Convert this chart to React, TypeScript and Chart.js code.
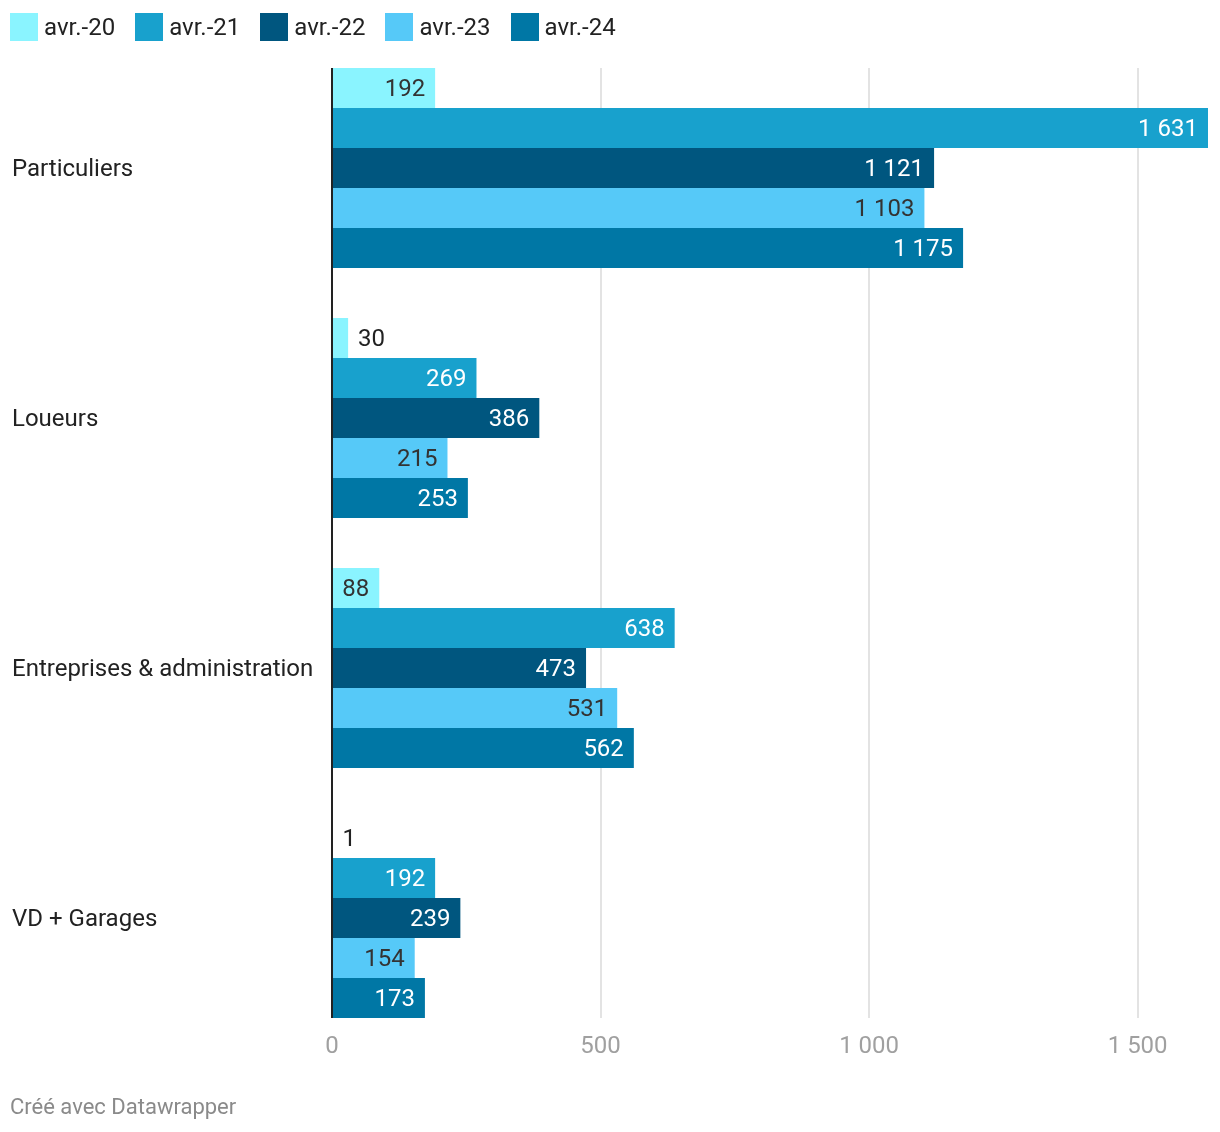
import React, { useEffect, useRef } from "react";
import { Chart, registerables } from "chart.js";

Chart.register(...registerables);

const categories = ["Particuliers", "Loueurs", "Entreprises & administration", "VD + Garages"];
const seriesNames = ["avr.-20", "avr.-21", "avr.-22", "avr.-23", "avr.-24"];
const avr20 = [192, 30, 88, 1];
const avr21 = [1631, 269, 638, 192];
const avr22 = [1121, 386, 473, 239];
const avr23 = [1103, 215, 531, 154];
const avr24 = [1175, 253, 562, 173];
const seriesValues = [avr20, avr21, avr22, avr23, avr24];
const seriesColors = ["#8af4ff", "#18a1cd", "#00567f", "#56c9f8", "#0077a5"];
const labelColors = ["#333333", "#ffffff", "#ffffff", "#333333", "#ffffff"];
const xTickValues = [0, 500, 1000, 1500];
const xMax = 1631;
const footerText = "Créé avec Datawrapper";

const FONT = "Roboto, 'Noto Sans', sans-serif";

const fmt = (n: number) => String(n).replace(/\B(?=(\d{3})+(?!\d))/g, " ");

const gridPlugin = {
  id: "customGrid",
  beforeDatasetsDraw(chart: any) {
    const { ctx, scales } = chart;
    const x = scales.x;
    const y = scales.y;
    const half = y.getPixelForValue(1) - y.getPixelForValue(0);
    const top = y.getPixelForValue(0) - half * 0.4;
    const bottom = y.getPixelForValue(categories.length - 1) + half * 0.4;
    ctx.save();
    ctx.strokeStyle = "#e3e3e3";
    ctx.lineWidth = 2;
    x.ticks.forEach((t: any) => {
      if (t.value === 0) return;
      const px = Math.round(x.getPixelForValue(t.value));
      ctx.beginPath();
      ctx.moveTo(px, top);
      ctx.lineTo(px, bottom);
      ctx.stroke();
    });
    ctx.restore();
  },
  afterDatasetsDraw(chart: any) {
    const { ctx, scales } = chart;
    const x = scales.x;
    const y = scales.y;
    const half = y.getPixelForValue(1) - y.getPixelForValue(0);
    const top = y.getPixelForValue(0) - half * 0.4;
    const bottom = y.getPixelForValue(categories.length - 1) + half * 0.4;
    ctx.save();
    ctx.font = `24px ${FONT}`;
    ctx.textBaseline = "middle";
    chart.data.datasets.forEach((ds: any, di: number) => {
      const meta = chart.getDatasetMeta(di);
      meta.data.forEach((bar: any, i: number) => {
        const v = ds.data[i];
        const txt = fmt(v);
        const w = ctx.measureText(txt).width;
        const base = x.getPixelForValue(0);
        const barW = bar.x - base;
        if (w + 20 <= barW) {
          ctx.textAlign = "right";
          ctx.fillStyle = labelColors[di];
          ctx.fillText(txt, bar.x - 10, bar.y + 2);
        } else {
          ctx.textAlign = "left";
          ctx.fillStyle = "#222222";
          ctx.fillText(txt, bar.x + 10, bar.y + 2);
        }
      });
    });
    const zx = Math.round(x.getPixelForValue(0));
    ctx.strokeStyle = "#222222";
    ctx.lineWidth = 2;
    ctx.beginPath();
    ctx.moveTo(zx, top);
    ctx.lineTo(zx, bottom);
    ctx.stroke();
    ctx.restore();
  },
};

export default function App() {
  const ref = useRef<HTMLCanvasElement | null>(null);
  useEffect(() => {
    if (!ref.current) return;
    const chart = new Chart(ref.current, {
      type: "bar",
      data: {
        labels: categories,
        datasets: seriesNames.map((name, i) => ({
          label: name,
          data: seriesValues[i],
          backgroundColor: seriesColors[i],
          borderWidth: 0,
          categoryPercentage: 0.8,
          barPercentage: 1.0,
        })),
      },
      options: {
        indexAxis: "y",
        animation: false,
        responsive: false,
        layout: { padding: { left: 12, right: 12, top: 43, bottom: 49 } },
        plugins: {
          legend: { display: false },
          tooltip: { enabled: false },
        },
        scales: {
          x: {
            type: "linear",
            min: 0,
            max: xMax,
            grid: { display: false, drawTicks: false },
            border: { display: false },
            afterBuildTicks: (s: any) => {
              s.ticks = xTickValues.map((v) => ({ value: v }));
            },
            ticks: {
              mirror: true,
              padding: -18,
              color: "#a0a0a0",
              font: { family: FONT, size: 24 },
              callback: (v: any) => fmt(Number(v)),
              maxRotation: 0,
              autoSkip: false,
            },
            afterFit: (s: any) => {
              s.height = 40;
              s.paddingLeft = 0;
              s.paddingRight = 0;
            },
          },
          y: {
            type: "category",
            grid: { display: false, drawTicks: false },
            border: { display: false },
            ticks: {
              crossAlign: "far",
              color: "#222222",
              font: { family: FONT, size: 24 },
              padding: 0,
              labelOffset: 2,
            },
            afterFit: (s: any) => {
              s.width = 320;
            },
          },
        },
      },
      plugins: [gridPlugin],
    } as any);
    return () => chart.destroy();
  }, []);

  return (
    <div style={{ position: "absolute", left: 0, top: 0, width: 1220, height: 1132, background: "#fff", fontFamily: FONT }}>
      <canvas ref={ref} width={1220} height={1132} style={{ position: "absolute", left: 0, top: 0 }} />
      <div style={{ position: "absolute", left: 10, top: 13, display: "flex", alignItems: "center" }}>
        {seriesNames.map((n, i) => (
          <div key={n} style={{ display: "flex", alignItems: "center", marginRight: 20 }}>
            <span style={{ display: "inline-block", width: 28, height: 28, background: seriesColors[i], marginRight: 6 }} />
            <span style={{ fontSize: 24, color: "#222", lineHeight: "28px" }}>{n}</span>
          </div>
        ))}
      </div>
      <div style={{ position: "absolute", left: 10, top: 1093, fontSize: 22, color: "#8a8a8a", lineHeight: "28px" }}>
        {footerText}
      </div>
    </div>
  );
}
